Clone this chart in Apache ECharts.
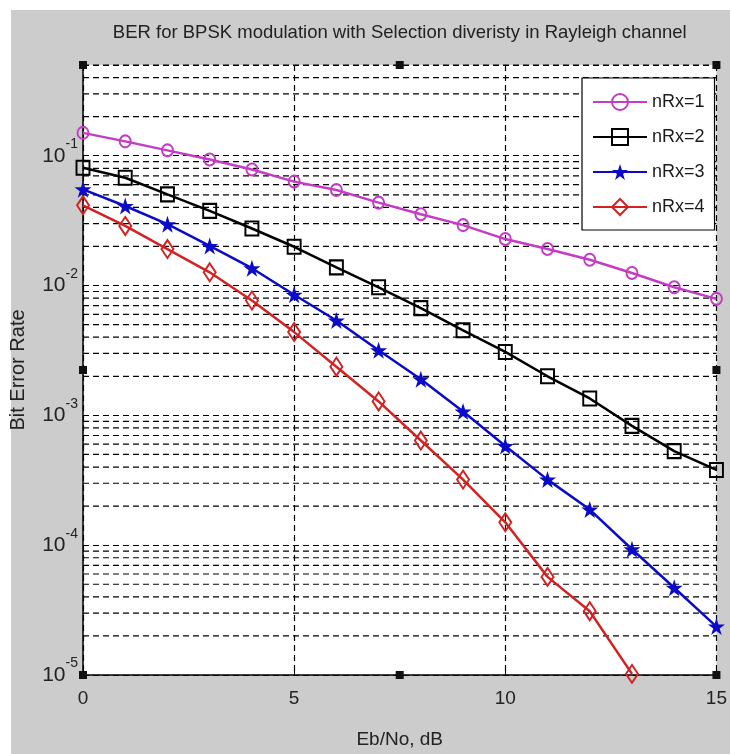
<!DOCTYPE html>
<html>
<head>
<meta charset="utf-8">
<title>BER selection diversity</title>
<script src="https://cdn.jsdelivr.net/npm/echarts@6/dist/echarts.min.js"></script>
<style>
  html, body { margin: 0; padding: 0; background: #fff; }
  #main { width: 730px; height: 754px; }
</style>
</head>
<body>
<div id="main"></div>
<script>
// Eb/No points in dB
const ebno = [0, 1, 2, 3, 4, 5, 6, 7, 8, 9, 10, 11, 12, 13, 14, 15];

// BER values
const berRx1 = [0.150, 0.129, 0.110, 0.0935, 0.0783, 0.0632, 0.0544, 0.0435, 0.0354, 0.0292,
  0.0228, 0.0191, 0.0158, 0.0125, 0.0097, 0.0079];
const berRx2 = [0.0807, 0.0677, 0.0504, 0.0376, 0.0275, 0.0199, 0.0138, 0.0097, 0.0067, 0.00452,
  0.00308, 0.0020, 0.00135, 0.00083, 0.00053, 0.00038];
const berRx3 = [0.0551, 0.041, 0.0297, 0.0202, 0.0136, 0.0085, 0.00538, 0.00317, 0.0019, 0.00107,
  0.00058, 0.00032, 0.000188, 0.000093, 0.000047, 0.0000236];
const berRx4 = [0.0415, 0.0288, 0.0191, 0.01265, 0.00767, 0.00438, 0.00237, 0.00128, 0.00064,
  0.00032, 0.00015, 0.000057, 0.000031, 0.0000102];

const seriesNames = ['nRx=1', 'nRx=2', 'nRx=3', 'nRx=4'];
const xMin = 0;
const xMax = 15;
const yMin = 1e-5;
const yMax = 0.5;

// minor log grid lines (2..9 x 10^k) inside the range
const minorGrid = [];
for (let k = -5; k <= -1; k++) {
  for (let m = 2; m <= 9; m++) {
    const v = m * Math.pow(10, k);
    if (v <= yMax + 1e-12) minorGrid.push([xMin, v]);
  }
}

const FONT = "'Liberation Sans', Arial, sans-serif";
const star = 'path://M12,0 L14.8,8.6 L23.8,8.6 L16.5,13.9 L19.3,22.5 L12,17.2 L4.7,22.5 L7.5,13.9 L0.2,8.6 L9.2,8.6 Z';
const dash = [6, 4];

function pairs(ys) {
  return ys.map((v, i) => [ebno[i], v]);
}

const myChart = echarts.init(document.getElementById('main'));

let option = {
  backgroundColor: '#fff',
  animation: false,
  grid: {
    left: 83, right: 10, top: 65, bottom: 76,
    show: true, backgroundColor: '#fff', borderWidth: 0
  },
  legend: {
    data: seriesNames,
    orient: 'vertical',
    left: 582, top: 78,
    itemWidth: 54, itemHeight: 20, itemGap: 17,
    padding: [15, 10, 14, 10],
    backgroundColor: '#fff',
    borderColor: '#000', borderWidth: 1.2, borderRadius: 0,
    textStyle: { fontFamily: FONT, fontSize: 18, color: '#1a1a1a' }
  },
  xAxis: {
    type: 'value',
    min: xMin, max: xMax, interval: 5,
    name: 'Eb/No, dB',
    nameLocation: 'middle', nameGap: 55,
    nameTextStyle: { fontFamily: FONT, fontSize: 19, color: '#222' },
    axisLine: { show: true, onZero: false, lineStyle: { color: '#000', width: 1.5 } },
    axisTick: { show: true, inside: true, length: 6, lineStyle: { color: '#000' } },
    axisLabel: { fontFamily: FONT, fontSize: 19, color: '#222', margin: 14 },
    splitLine: { show: true, lineStyle: { color: '#000', type: dash, width: 1.2 } }
  },
  yAxis: {
    type: 'log', logBase: 10,
    min: yMin, max: yMax,
    name: 'Bit Error Rate',
    nameLocation: 'middle', nameGap: 55,
    nameTextStyle: { fontFamily: FONT, fontSize: 20, color: '#222' },
    axisLine: { show: true, lineStyle: { color: '#000', width: 1.5 } },
    axisTick: { show: true, inside: true, length: 6, lineStyle: { color: '#000' } },
    axisLabel: {
      margin: 5,
      padding: [0, 0, 8, 0],
      formatter: function (v) {
        const e = Math.round(Math.log10(v));
        if (Math.abs(Math.log10(v) - e) > 1e-6) return '';
        return '{b|10}{s|' + e + '}';
      },
      rich: {
        b: { fontFamily: FONT, fontSize: 21, color: '#222', verticalAlign: 'bottom' },
        s: { fontFamily: FONT, fontSize: 14, color: '#222', verticalAlign: 'bottom', padding: [0, 0, 15, 0] }
      }
    },
    splitLine: { show: true, lineStyle: { color: '#000', type: dash, width: 1.2 } }
  },
  series: [
    {
      name: 'minor grid',
      type: 'custom',
      data: minorGrid,
      silent: true,
      z: 1,
      renderItem: function (params, api) {
        const a = api.coord([xMin, api.value(1)]);
        const b = api.coord([xMax, api.value(1)]);
        return {
          type: 'line',
          shape: { x1: a[0], y1: a[1], x2: b[0], y2: b[1] },
          style: { stroke: '#000', lineWidth: 1.2, lineDash: dash }
        };
      }
    },
    {
      name: seriesNames[0],
      type: 'line',
      data: pairs(berRx1),
      z: 3,
      symbol: 'circle', symbolSize: [11, 12],
      lineStyle: { color: '#c43cc4', width: 2.5 },
      itemStyle: { color: 'rgba(255,255,255,0)', borderColor: '#c43cc4', borderWidth: 2 }
    },
    {
      name: seriesNames[1],
      type: 'line',
      data: pairs(berRx2),
      z: 3,
      symbol: 'rect', symbolSize: [13, 14],
      lineStyle: { color: '#000', width: 2.5 },
      itemStyle: { color: 'rgba(255,255,255,0)', borderColor: '#000', borderWidth: 2 }
    },
    {
      name: seriesNames[2],
      type: 'line',
      data: pairs(berRx3),
      z: 3,
      symbol: star, symbolSize: 17,
      lineStyle: { color: '#0a0ac8', width: 2.5 },
      itemStyle: { color: '#0a0ac8' }
    },
    {
      name: seriesNames[3],
      type: 'line',
      data: pairs(berRx4),
      z: 3,
      symbol: 'diamond', symbolSize: [12, 18],
      lineStyle: { color: '#d22222', width: 2.5 },
      itemStyle: { color: 'rgba(255,255,255,0)', borderColor: '#d22222', borderWidth: 2 }
    }
  ]
};

myChart.setOption(option);

// figure background, title and the edit handles around the axes
const p0 = myChart.convertToPixel({ gridIndex: 0 }, [xMin, yMin]);
const p1 = myChart.convertToPixel({ gridIndex: 0 }, [xMax, yMax]);
const xm = (p0[0] + p1[0]) / 2;
const ym = (p0[1] + p1[1]) / 2;
const handles = [
  [p0[0], p1[1]], [xm, p1[1]], [p1[0], p1[1]],
  [p0[0], ym], [p1[0], ym],
  [p0[0], p0[1]], [xm, p0[1]], [p1[0], p0[1]]
].map(h => ({
  type: 'rect',
  shape: { x: h[0] - 4, y: h[1] - 4, width: 8, height: 8 },
  style: { fill: '#111' },
  z: 10
}));

myChart.setOption({
  graphic: [
    {
      type: 'rect', z: -10, silent: true,
      shape: { x: 11, y: 10, width: 730, height: 754 },
      style: { fill: '#cccccc' }
    },
    {
      type: 'text', z: 10,
      x: xm, y: 33,
      style: {
        text: 'BER for BPSK modulation with Selection diveristy in Rayleigh channel',
        fontFamily: FONT, fontSize: 18.5, fill: '#222',
        textAlign: 'center', textVerticalAlign: 'middle'
      }
    }
  ].concat(handles)
});

window.addEventListener('resize', () => {
  myChart.resize();
});
</script>
</body>
</html>
